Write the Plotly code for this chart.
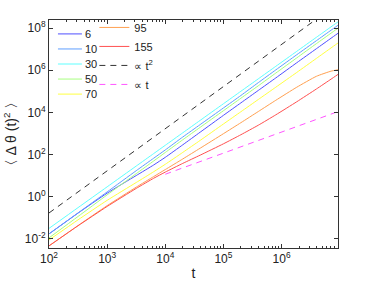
import numpy as np
import plotly.graph_objects as go

# time grid (t) shared by all curves
t_grid = [100, 316, 1000, 3160, 6310, 10000, 19950, 39810, 100000, 199500,
          398100, 794300, 1820000, 3981000, 7079000, 9333000]

# log10 of <dtheta(t)^2>
log_msd_6 = [-1.76, -0.775, 0.17, 1.005, 1.506, 1.87, 2.461, 3.062, 3.86, 4.451,
             5.042, 5.633, 6.352, 7.022, 7.515, 7.751]
log_msd_10 = [-1.76, -0.765, 0.23, 1.235, 1.826, 2.22, 2.831, 3.422, 4.21, 4.801,
              5.412, 6.013, 6.732, 7.402, 7.895, 8.131]
log_msd_30 = [-1.5, -0.515, 0.47, 1.455, 2.046, 2.44, 3.031, 3.622, 4.41, 5.001,
              5.592, 6.183, 6.892, 7.562, 8.055, 8.291]
log_msd_50 = [-1.95, -0.935, 0.09, 1.095, 1.696, 2.1, 2.701, 3.292, 4.08, 4.671,
              5.262, 5.863, 6.582, 7.262, 7.755, 7.991]
log_msd_70 = [-2.05, -1.095, -0.17, 0.675, 1.186, 1.54, 2.101, 2.672, 3.45, 4.031,
              4.612, 5.193, 5.892, 6.562, 7.055, 7.291]
log_msd_95 = [-2.33, -1.365, -0.42, 0.455, 0.956, 1.29, 1.791, 2.302, 2.99, 3.511,
              4.042, 4.573, 5.192, 5.712, 5.955, 6.021]
log_msd_155 = [-2.33, -1.375, -0.46, 0.395, 0.876, 1.17, 1.581, 1.972, 2.51, 2.941,
               3.392, 3.883, 4.502, 5.112, 5.575, 5.801]

series_names = ["6", "10", "30", "50", "70", "95", "155"]
series_colors = ["#5050ff", "#5f9fff", "#5fffff", "#a8ff80", "#ffff40", "#ffa050", "#ff5050"]

# guide lines (two end points each)
t2_t = [100, 9333000]
t2_y = [0.17, 1.45e9]
t1_t = [10000, 9333000]
t1_y = [11.7, 1.09e4]

fig = go.Figure()
all_logs = [log_msd_6, log_msd_10, log_msd_30, log_msd_50, log_msd_70, log_msd_95, log_msd_155]
for i, (name, col, lg) in enumerate(zip(series_names, series_colors, all_logs)):
    fig.add_trace(go.Scatter(
        x=t_grid, y=10 ** np.array(lg), mode="lines", name=name,
        line=dict(color=col, width=1, shape="spline", smoothing=0.5),
        showlegend=(i >= 5), legend="legend2"))

fig.add_trace(go.Scatter(x=t2_t, y=t2_y, mode="lines", name="\u221d t<sup>2</sup>",
                         line=dict(color="#333333", width=1, dash="6px,5px"),
                         legend="legend2"))
fig.add_trace(go.Scatter(x=t1_t, y=t1_y, mode="lines", name="\u221d t",
                         line=dict(color="#ff55ff", width=1, dash="6px,5px"),
                         legend="legend2"))

font = "Liberation Sans, Arial, sans-serif"
legfont = dict(family=font, size=11, color="#222")

# first legend column (compact spacing) drawn as paper-referenced keys
col1_y = [0.939, 0.873, 0.807, 0.741, 0.675]
for name, col, yy in zip(series_names[:5], series_colors[:5], col1_y):
    fig.add_shape(type="line", xref="paper", yref="paper", x0=0.031, x1=0.114,
                  y0=yy, y1=yy, line=dict(color=col, width=1))
    fig.add_annotation(xref="paper", yref="paper", x=0.118, y=yy, text=name,
                       showarrow=False, xanchor="left", yanchor="middle", font=legfont)

fig.update_layout(
    width=374, height=281,
    margin=dict(l=49, r=36, t=20, b=33),
    paper_bgcolor="white", plot_bgcolor="white",
    font=dict(family=font, size=12, color="#222"),
    showlegend=True,
    legend2=dict(x=0.157, y=1.031, xanchor="left", yanchor="top", bgcolor="rgba(0,0,0,0)",
                 font=legfont, tracegroupgap=0, itemwidth=30),
    xaxis=dict(type="log", range=[2, 6.97], showgrid=False, zeroline=False, automargin=False,
               showline=True, linecolor="#333", linewidth=1, mirror="ticks",
               ticks="inside", ticklen=4, tickcolor="#333",
               tickvals=[1e2, 1e3, 1e4, 1e5, 1e6],
               ticktext=["10<sup>2</sup>", "10<sup>3</sup>", "10<sup>4</sup>",
                         "10<sup>5</sup>", "10<sup>6</sup>"],
               minor=dict(ticks="inside", ticklen=2, tickcolor="#333",
                          tickvals=[a * 10 ** b for b in range(2, 7) for a in range(2, 10)]),
               title=dict(text="t", standoff=2)),
    yaxis=dict(type="log", range=[-2.43, 8.38], showgrid=False, zeroline=False, automargin=False,
               showline=True, linecolor="#333", linewidth=1, mirror="ticks",
               ticks="inside", ticklen=4, tickcolor="#333",
               tickvals=[1e-2, 1, 1e2, 1e4, 1e6, 1e8],
               ticktext=["10<sup>-2</sup>", "10<sup>0</sup>", "10<sup>2</sup>",
                         "10<sup>4</sup>", "10<sup>6</sup>", "10<sup>8</sup>"],
               title=dict(text="\u3008 \u0394 \u03b8 (t)<sup>2</sup> \u3009", standoff=4)),
)

fig.write_html("out.html", config={"displayModeBar": False},
               post_script="document.body.style.margin='0';")
